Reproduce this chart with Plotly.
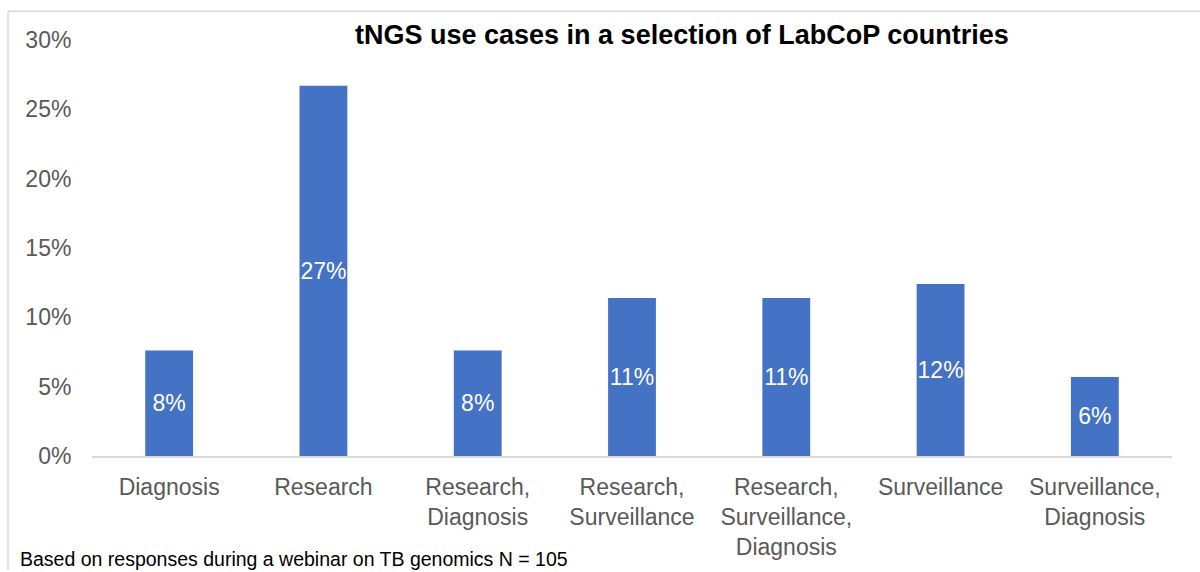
import plotly.graph_objects as go

categories = ["Diagnosis", "Research", "Research,<br>Diagnosis", "Research,<br>Surveillance",
              "Research,<br>Surveillance,<br>Diagnosis", "Surveillance", "Surveillance,<br>Diagnosis"]
shares = [0.076, 0.267, 0.076, 0.114, 0.114, 0.124, 0.057]
bar_labels = [f"{round(v * 100)}%" for v in shares]
y_ticks = [0, 0.05, 0.10, 0.15, 0.20, 0.25, 0.30]
y_tick_labels = ["0%", "5%", "10%", "15%", "20%", "25%", "30%"]

title_text = "tNGS use cases in a selection of LabCoP countries"
footnote_text = "Based on responses during a webinar on TB genomics N = 105"

fig = go.Figure(go.Bar(
    x=categories, y=shares, text=bar_labels,
    textposition="inside", insidetextanchor="middle", constraintext="none", textangle=0,
    textfont=dict(color="white", size=23, family="Liberation Sans"),
    marker=dict(color="#4472C4", line=dict(width=0)),
    hoverinfo="skip", cliponaxis=False,
))

fig.update_layout(
    width=1200, height=572,
    margin=dict(l=92, r=28, t=40, b=114),
    paper_bgcolor="white", plot_bgcolor="white",
    bargap=0.69, showlegend=False,
    font=dict(family="Liberation Sans", color="#595959", size=23),
)
fig.update_xaxes(
    showline=True, linecolor="#D9D9D9", linewidth=1.5,
    showgrid=False, ticks="outside", ticklen=10, tickcolor="rgba(0,0,0,0)",
    tickfont=dict(size=23, color="#595959"), tickangle=0,
)
fig.update_yaxes(
    range=[0, 0.30], tickvals=y_ticks, ticktext=y_tick_labels,
    showgrid=False, zeroline=False, showline=False,
    ticks="outside", ticklen=15, tickcolor="rgba(0,0,0,0)",
    tickfont=dict(size=23, color="#595959"),
)

fig.add_annotation(text=f"<b>{title_text}</b>", xref="paper", yref="paper",
                   x=0.546, y=(458 - 35) / 418, xanchor="center", yanchor="middle",
                   showarrow=False, font=dict(size=27, color="black", family="Liberation Sans"))
fig.add_annotation(text=footnote_text, xref="paper", yref="paper",
                   x=(18 - 92) / 1080, y=(458 - 561) / 418, xanchor="left", yanchor="middle",
                   showarrow=False, font=dict(size=19.5, color="black", family="Liberation Sans"))

# thin frame lines at top and left of the image
fig.add_shape(type="line", xref="paper", yref="paper",
              x0=(8 - 92) / 1080, x1=(1200 - 92) / 1080, y0=(458 - 11) / 418, y1=(458 - 11) / 418,
              line=dict(color="#D9D9D9", width=1.5))
fig.add_shape(type="line", xref="paper", yref="paper",
              x0=(8 - 92) / 1080, x1=(8 - 92) / 1080, y0=(458 - 11) / 418, y1=(458 - 572) / 418,
              line=dict(color="#D9D9D9", width=1.5))

fig.write_html("out.html")
